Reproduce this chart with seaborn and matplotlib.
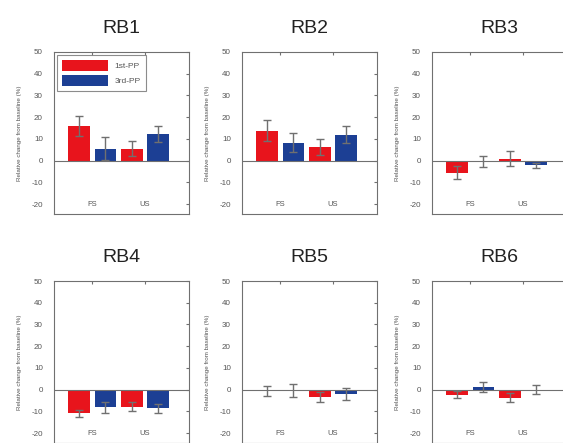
import numpy as np
import pandas as pd
import seaborn as sns
import matplotlib.pyplot as plt

# values (relative change from baseline, %)
panels = ["RB1", "RB2", "RB3", "RB4", "RB5", "RB6"]
conditions = ["FS", "US"]
groups = ["1st-PP", "3rd-PP"]

# order per panel: FS 1st, FS 3rd, US 1st, US 3rd
rb1_mean = [16.0, 5.5, 5.5, 12.3]
rb1_err = [4.5, 5.2, 3.5, 3.7]
rb2_mean = [13.8, 8.3, 6.2, 12.0]
rb2_err = [5.0, 4.5, 3.7, 3.8]
rb3_mean = [-5.5, -0.4, 0.9, -2.2]
rb3_err = [2.8, 2.7, 3.3, 1.0]
rb4_mean = [-10.9, -8.2, -7.8, -8.6]
rb4_err = [1.5, 2.7, 2.2, 2.0]
rb5_mean = [-0.5, -0.5, -3.5, -2.0]
rb5_err = [2.3, 2.9, 2.2, 2.8]
rb6_mean = [-2.3, 1.2, -3.8, 0.0]
rb6_err = [1.5, 2.3, 2.0, 2.2]

means = [rb1_mean, rb2_mean, rb3_mean, rb4_mean, rb5_mean, rb6_mean]
errs = [rb1_err, rb2_err, rb3_err, rb4_err, rb5_err, rb6_err]

colors = {"1st-PP": "#e8141c", "3rd-PP": "#1c3f94"}
grey = "#707070"

sns.set_style("white")
plt.rcParams['font.family'] = ['Liberation Sans', 'DejaVu Sans']
plt.rcParams['axes.unicode_minus'] = False

fig = plt.figure(figsize=(5.63, 4.43), dpi=100)
W, H = 563, 443
lefts = [54, 242, 432]
tops = [52, 281]
aw, ah = 135, 162

for k, name in enumerate(panels):
    r, c = divmod(k, 3)
    ax = fig.add_axes([lefts[c] / W, 1 - (tops[r] + ah) / H, aw / W, ah / H])
    rows = []
    for i, cond in enumerate(conditions):
        for j, g in enumerate(groups):
            rows.append({"cond": cond, "group": g,
                         "val": means[k][2 * i + j], "err": errs[k][2 * i + j]})
    df = pd.DataFrame(rows)
    sns.barplot(data=df, x="cond", y="val", hue="group", order=conditions,
                hue_order=groups, palette=colors, width=1.0, gap=0.18,
                saturation=1, errorbar=None, ax=ax, legend=(k == 0), linewidth=0)

    # error bars at bar centres
    for bars, g in zip(ax.containers, groups):
        sub = df[df["group"] == g].set_index("cond").loc[conditions]
        xs = [b.get_x() + b.get_width() / 2 for b in bars]
        ax.errorbar(xs, sub["val"], yerr=sub["err"], fmt="none",
                    ecolor=grey, elinewidth=1.0, capsize=3, capthick=1.0, zorder=5)

    ax.axhline(0, color=grey, lw=0.8, zorder=1)
    ax.set_ylim(-24.6, 50)
    ax.set_xlim(-0.72, 1.83)
    ax.set_yticks(np.arange(-20, 51, 10))
    ax.set_xticks(range(len(conditions)))
    ax.set_xticklabels([])
    for i, cond in enumerate(conditions):
        ax.text(i, -20, cond, ha="center", va="center", fontsize=5.5, color="#555555")
    ax.tick_params(axis="y", labelsize=5.8, labelcolor="#555555", length=2,
                   direction="in", right=True, color=grey, pad=8)
    ax.tick_params(axis="x", length=2, direction="in", top=True, color=grey)
    for s in ax.spines.values():
        s.set_color(grey)
        s.set_linewidth(0.8)
    ax.set_xlabel("")
    ax.set_ylabel("Relative change from baseline (%)", fontsize=4.5, color="#555555",
                  labelpad=7)
    ax.set_title(name, fontsize=14, color="#222222", pad=14)
    if k == 0:
        leg = ax.legend(loc="upper left", fontsize=6, frameon=True, fancybox=False,
                        handlelength=5.5, handleheight=1.6, borderaxespad=0.4,
                        labelspacing=0.5, labelcolor="#555555", edgecolor=grey,
                        borderpad=0.6)
        leg.get_frame().set_linewidth(0.8)

fig.savefig("out.png", dpi=100)
